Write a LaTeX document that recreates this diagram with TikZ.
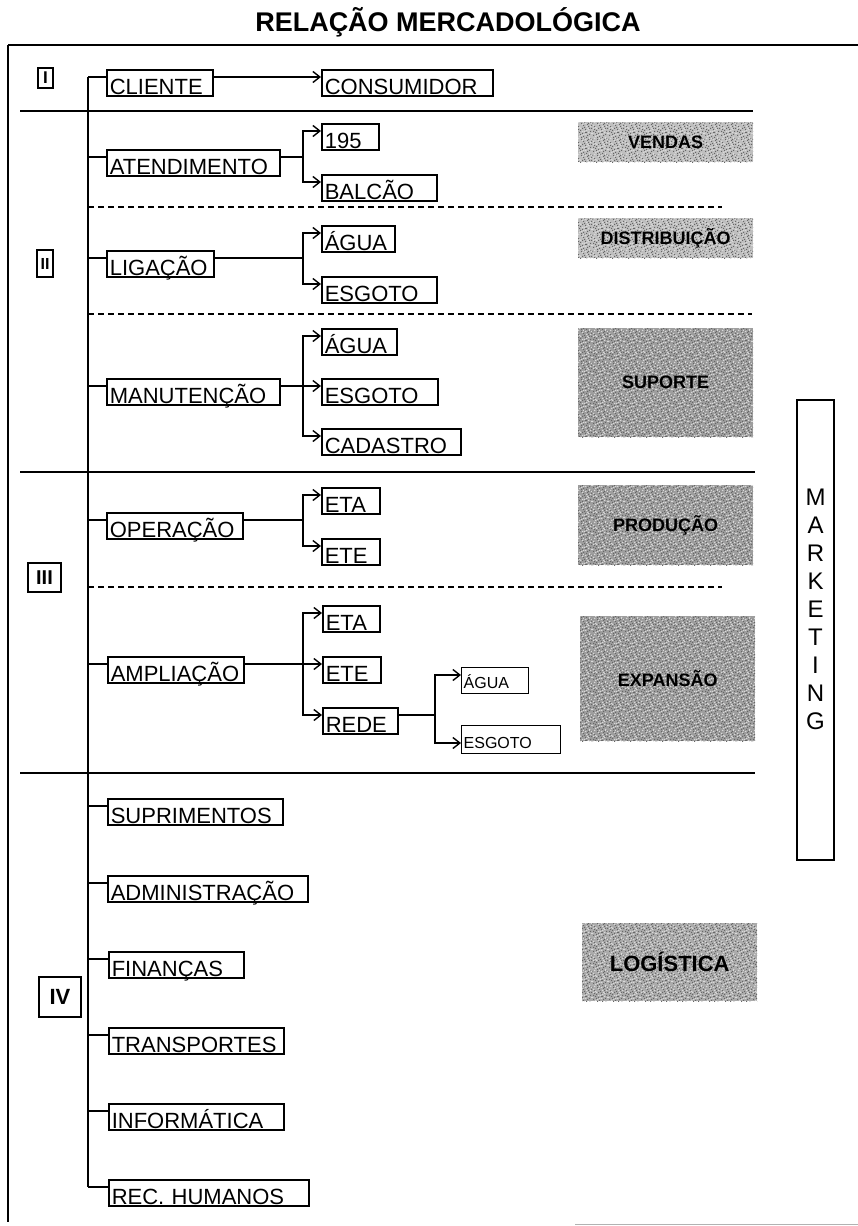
\documentclass[tikz,border=0pt]{standalone}
\usepackage{fontspec}
\setmainfont{Liberation Sans}
\usetikzlibrary{arrows.meta,patterns}
\pgfdeclarepatternformonly{specklea}{\pgfqpoint{-1pt}{-1pt}}{\pgfqpoint{17pt}{17pt}}{\pgfqpoint{16pt}{16pt}}{%
  \foreach \a/\b in {1/2,4/7,7/1,10/5,13/3,15/9,2/11,5/14,8/10,11/13,14/15,3/5,6/4,9/8,12/11,0/14,5/0,8/15,11/2,14/6,2/8,7/12,10/0,13/9,4/3,9/5,12/14,15/12,1/6,6/9}{%
    \pgfpathrectangle{\pgfqpoint{\a pt}{\b pt}}{\pgfqpoint{1.1pt}{1.1pt}}}%
  \pgfusepath{fill}}
\pgfdeclarepatternformonly{speckleb}{\pgfqpoint{-1pt}{-1pt}}{\pgfqpoint{17pt}{17pt}}{\pgfqpoint{16pt}{16pt}}{%
  \foreach \a/\b in {3/1,6/6,9/3,12/8,15/4,1/12,4/9,7/15,10/11,13/0,0/4,6/13,9/14,12/5,15/14,2/15,5/2,8/6,11/9,14/11,3/10,7/3,10/7,13/15,1/9}{%
    \pgfpathrectangle{\pgfqpoint{\a pt}{\b pt}}{\pgfqpoint{1.3pt}{1.2pt}}}%
  \pgfusepath{fill}}
\tikzset{
 lbox/.style={draw, line width=1.6pt, anchor=north west, inner xsep=3pt, inner ysep=1pt, text height=24pt, text depth=0pt, text width=#1, align=left, font=\fontsize{22}{24}\selectfont},
 sbox/.style={draw, line width=1.4pt, anchor=north west, inner xsep=2pt, inner ysep=5pt, text height=16pt, text depth=0pt, text width=#1, align=left, font=\fontsize{16}{18}\selectfont},
 roman/.style={draw, line width=1.6pt, inner sep=0pt, font=\bfseries\fontsize{#1}{#1}\selectfont},
 shadebox/.style={preaction={fill=#1}, pattern=specklea, pattern color=black!60, postaction={pattern=speckleb, pattern color=white!85!black}, inner sep=0pt, anchor=north west, font=\bfseries\fontsize{18}{20}\selectfont},
 link/.style={line width=1.5pt},
 arr/.style={line width=1.4pt, -{Straight Barb[length=7pt,width=11pt,line width=1.4pt]}},
 sep/.style={line width=1.7pt},
 dsep/.style={line width=1.4pt, dash pattern=on 6pt off 4pt},
}
\begin{document}
\begin{tikzpicture}[x=1pt,y=-1pt]
\useasboundingbox (0,0) rectangle (858,1226);
% title
\node[font=\bfseries\fontsize{27}{30}\selectfont] (title) at (448,22) {RELAÇÃO MERCADOLÓGICA};
% frame and separators
\draw[sep] (8,45) -- (858,45);
\draw[line width=2pt] (8,45) -- (8,1222);
\draw[gray!60, line width=1pt] (575,1224) -- (858,1224);
\draw[sep] (20,111) -- (753,111);
\draw[sep] (20,472) -- (755,472);
\draw[sep] (20,773) -- (755,773);
\draw[dsep] (88,207) -- (722,207);
\draw[dsep] (88,314) -- (752,314);
\draw[dsep] (88,587) -- (722,587);
% roman labels
\node[roman=17, minimum width=15pt, minimum height=20pt] (r1) at (45.5,78) {I};
\node[roman=16, minimum width=16pt, minimum height=27pt] (r2) at (45,263.5) {II};
\node[roman=20, minimum width=33pt, minimum height=29pt] (r3) at (44.5,577.5) {III};
\node[roman=22, minimum width=42pt, minimum height=40pt] (r4) at (60,997) {IV};
% boxes
\node[lbox=100pt] (cli) at (106,69) {CLIENTE};
\node[lbox=165pt] (con) at (321,69) {CONSUMIDOR};
\node[lbox=167pt] (ate) at (106,149) {ATENDIMENTO};
\node[lbox=51pt] (n195) at (321,123) {195};
\node[lbox=109pt] (bal) at (321,174) {BALCÃO};
\node[lbox=101pt] (lig) at (106,250) {LIGAÇÃO};
\node[lbox=67pt] (agA) at (321,225) {ÁGUA};
\node[lbox=109pt] (esA) at (321,276) {ESGOTO};
\node[lbox=167pt] (man) at (106,378) {MANUTENÇÃO};
\node[lbox=69pt] (agB) at (321,328) {ÁGUA};
\node[lbox=110pt] (esB) at (321,378) {ESGOTO};
\node[lbox=133pt] (cad) at (321,428) {CADASTRO};
\node[lbox=130pt] (ope) at (106,512) {OPERAÇÃO};
\node[lbox=52pt] (etaA) at (321,487) {ETA};
\node[lbox=52pt] (eteA) at (321,538) {ETE};
\node[lbox=130pt] (amp) at (107,656) {AMPLIAÇÃO};
\node[lbox=51pt] (etaB) at (322,605) {ETA};
\node[lbox=52pt] (eteB) at (322,656) {ETE};
\node[lbox=69pt] (rede) at (322,707) {REDE};
\node[sbox=63pt] (agC) at (461,667) {ÁGUA};
\node[sbox=95pt, text height=18pt] (esC) at (461,725) {ESGOTO};
\node[lbox=169pt] (sup) at (107,798) {SUPRIMENTOS};
\node[lbox=194pt] (adm) at (107,875) {ADMINISTRAÇÃO};
\node[lbox=129pt] (fin) at (108,951) {FINANÇAS};
\node[lbox=169pt] (tra) at (108,1027) {TRANSPORTES};
\node[lbox=169pt] (inf) at (108,1103) {INFORMÁTICA};
\node[lbox=194pt] (rec) at (108,1179) {REC. HUMANOS};
% attachment points
\foreach \n in {cli,con,ate,n195,bal,lig,agA,esA,man,agB,esB,cad,ope,etaA,eteA,amp,etaB,eteB,rede,agC,sup,adm,fin,tra,inf,rec}{
  \coordinate (\n-l) at ([yshift=-8pt]\n.north west);
  \coordinate (\n-r) at ([yshift=-8pt]\n.north east);
}
\coordinate (esC-l) at ([yshift=-18pt]esC.north west);
\coordinate (tr) at (88,0);
\coordinate (bx) at (303,0);
\coordinate (bx2) at (435,0);
% trunk
\draw[link] (tr |- cli-l) -- (tr |- rec-l);
\foreach \n in {cli,ate,lig,man,ope,amp,sup,adm,fin,tra,inf,rec}
  \draw[link] (tr |- \n-l) -- (\n-l);
% children
\draw[arr] (cli-r) -- (con-l);
\foreach \p/\c in {ate/n195,ate/bal,lig/agA,lig/esA,man/agB,man/esB,man/cad,ope/etaA,ope/eteA,amp/etaB,amp/eteB,amp/rede}
  \draw[arr] (\p-r) -| (bx |- \c-l) -- (\c-l);
\draw[arr] (rede-r) -| (bx2 |- agC-l) -- (agC-l);
\draw[arr] (rede-r) -| (bx2 |- esC-l) -- (esC-l);
% shaded areas
\node[shadebox=black!25, minimum width=175pt, minimum height=40pt] (vendas) at (578,122) {VENDAS};
\node[shadebox=black!25, minimum width=175pt, minimum height=40pt] (distr) at (578,218) {DISTRIBUIÇÃO};
\node[shadebox=black!38, minimum width=175pt, minimum height=109pt] (suporte) at (578,328) {SUPORTE};
\node[shadebox=black!38, minimum width=175pt, minimum height=80pt] (prod) at (578,485) {PRODUÇÃO};
\node[shadebox=black!38, minimum width=175pt, minimum height=125pt] (expa) at (580,616) {EXPANSÃO};
\node[shadebox=black!33, minimum width=175pt, minimum height=78pt, font=\bfseries\fontsize{22}{24}\selectfont] (logi) at (582,923) {LOGÍSTICA};
% marketing
\node[draw, line width=1.6pt, minimum width=37pt, minimum height=460pt, inner sep=0pt] (mkt) at (815.5,630) {};
\node[font=\fontsize{24}{28}\selectfont, align=center, inner sep=0pt] (mktxt) at (815.5,609) {M\\A\\R\\K\\E\\T\\I\\N\\G};
\end{tikzpicture}
\end{document}
